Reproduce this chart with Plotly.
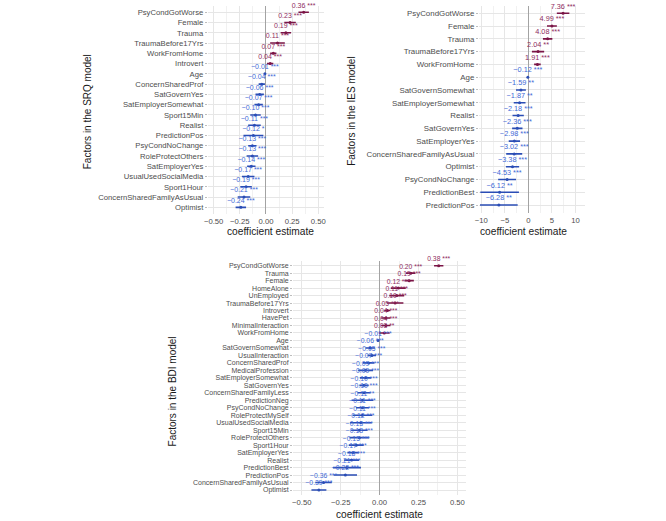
import plotly.graph_objects as go

W, H = 666, 521

# ---------------- data ----------------
srq_factors = ["PsyCondGotWorse", "Female", "Trauma", "TraumaBefore17Yrs", "WorkFromHome",
               "Introvert", "Age", "ConcernSharedProf", "SatGovernYes", "SatEmployerSomewhat",
               "Sport15Min", "Realist", "PredictionPos", "PsyCondNoChange", "RoleProtectOthers",
               "SatEmployerYes", "UsualUsedSocialMedia", "Sport1Hour",
               "ConcernSharedFamilyAsUsual", "Optimist"]
srq_coef = [0.36, 0.23, 0.19, 0.11, 0.07, 0.04, -0.01, -0.04, -0.06, -0.07,
            -0.10, -0.11, -0.12, -0.13, -0.13, -0.14, -0.17, -0.19, -0.21, -0.24]
srq_ci = [0.05, 0.055, 0.05, 0.07, 0.03, 0.03, 0.005, 0.03, 0.04, 0.04,
          0.05, 0.06, 0.095, 0.04, 0.055, 0.04, 0.06, 0.055, 0.06, 0.05]
srq_stars = ["***", "***", "***", "***", "***", "***", "***", "***", "***", "***",
             "***", "***", "*", "***", "***", "***", "***", "***", "***", "***"]

ies_factors = ["PsyCondGotWorse", "Female", "Trauma", "TraumaBefore17Yrs", "WorkFromHome",
               "Age", "SatGovernSomewhat", "SatEmployerSomewhat", "Realist", "SatGovernYes",
               "SatEmployerYes", "ConcernSharedFamilyAsUsual", "Optimist", "PsyCondNoChange",
               "PredictionBest", "PredictionPos"]
ies_coef = [7.36, 4.99, 4.08, 2.04, 1.91, -0.12, -1.59, -1.87, -2.18, -2.36,
            -2.98, -3.02, -3.38, -4.53, -6.12, -6.28]
ies_ci = [1.33, 1.05, 1.0, 1.3, 0.7, 0.05, 1.05, 1.25, 1.2, 1.1,
          1.2, 1.7, 1.4, 1.9, 4.1, 4.0]
ies_stars = ["***", "***", "***", "**", "***", "***", "**", "**", "***", "***",
             "***", "***", "***", "***", "**", "**"]

bdi_factors = ["PsyCondGotWorse", "Trauma", "Female", "HomeAlone", "UnEmployed",
               "TraumaBefore17Yrs", "Introvert", "HavePet", "MinimalInteraction", "WorkFromHome",
               "Age", "SatGovernSomewhat", "UsualInteraction", "ConcernSharedProf",
               "MedicalProfession", "SatEmployerSomewhat", "SatGovernYes",
               "ConcernSharedFamilyLess", "PredictionNeg", "PsyCondNoChange",
               "RoleProtectMySelf", "UsualUsedSocialMedia", "Sport15Min", "RoleProtectOthers",
               "Sport1Hour", "SatEmployerYes", "Realist", "PredictionBest", "PredictionPos",
               "ConcernSharedFamilyAsUsual", "Optimist"]
bdi_coef = [0.38, 0.20, 0.19, 0.12, 0.11, 0.10, 0.05, 0.04, 0.04, 0.03,
            -0.01, -0.06, -0.05, -0.07, -0.09, -0.09, -0.10, -0.10, -0.11, -0.11,
            -0.11, -0.12, -0.13, -0.13, -0.15, -0.17, -0.18, -0.21, -0.22, -0.36, -0.39]
bdi_ci = [0.03, 0.03, 0.03, 0.048, 0.048, 0.053, 0.02, 0.03, 0.03, 0.035,
          0.005, 0.03, 0.027, 0.037, 0.048, 0.037, 0.03, 0.042, 0.07, 0.042,
          0.063, 0.07, 0.053, 0.063, 0.048, 0.037, 0.048, 0.09, 0.075, 0.053, 0.048]
bdi_stars = ["***", "***", "***", "***", "***", "***", "***", "***", "***", "**",
             "***", "***", "***", "***", "***", "***", "***", "***", "**", "***",
             "***", "***", "***", "***", "***", "***", "***", "***", "***", "***", "***"]

# ---------------- styling ----------------
FONT = "Liberation Sans, Arial, sans-serif"
POS_LINE, POS_TEXT = "#7a1446", "#8e2c5e"
NEG_LINE, NEG_TEXT = "#2a4db5", "#4169d6"
GRID, MINOR_GRID = "#e6e6e6", "#f1f1f1"
TICK_COL = "#4d4d4d"

panels = [
    dict(title="Factors in the SRQ model", factors=srq_factors, coef=srq_coef, ci=srq_ci,
         stars=srq_stars, ax="", xpx=(205.7, 323.0), ypx=(6.1, 213.5),
         xrange=[-0.555, 0.555], major=[-0.5, -0.25, 0, 0.25, 0.5], fmt="{:.2f}",
         minor=[-0.375, -0.125, 0.125, 0.375], xt=(268.5, 231.7), yt=(85, 112),
         yfont=7.7, vfont=7),
    dict(title="Factors in the IES model", factors=ies_factors, coef=ies_coef, ci=ies_ci,
         stars=ies_stars, ax="2", xpx=(479.3, 586.7), ypx=(5.6, 212.7),
         xrange=[-10.5, 12.1], major=[-10, -5, 0, 5, 10], fmt="{:.0f}",
         minor=[-7.5, -2.5, 2.5, 7.5], xt=(524, 231.0), yt=(350, 111),
         yfont=7.9, vfont=7.3),
    dict(title="Factors in the BDI model", factors=bdi_factors, coef=bdi_coef, ci=bdi_ci,
         stars=bdi_stars, ax="3", xpx=(291.7, 466.0), ypx=(261.2, 494.5),
         xrange=[-0.556, 0.554], major=[-0.5, -0.25, 0, 0.25, 0.5], fmt="{:.2f}",
         minor=[-0.375, -0.125, 0.125, 0.375], xt=(379, 514.0), yt=(170, 391),
         yfont=7.0, vfont=6.8),
]


def minus(s):
    return s.replace("-", "\u2212")


fig = go.Figure()
annotations = []
for p in panels:
    xa, ya = "x" + p["ax"], "y" + p["ax"]
    for sign, lc, tc in ((1, POS_LINE, POS_TEXT), (-1, NEG_LINE, NEG_TEXT)):
        idx = [i for i, v in enumerate(p["coef"]) if (v > 0) == (sign > 0)]
        xs = [p["coef"][i] for i in idx]
        ys = [p["factors"][i] for i in idx]
        es = [p["ci"][i] for i in idx]
        txt = [minus("{:.2f}".format(p["coef"][i])) + " " + p["stars"][i] for i in idx]
        fig.add_trace(go.Scatter(
            x=xs, y=ys, xaxis=xa, yaxis=ya, mode="markers+text",
            marker=dict(size=3, color=lc),
            error_x=dict(type="data", array=es, symmetric=True, width=0,
                         thickness=1.6, color=lc),
            text=txt, textposition="top center",
            textfont=dict(family=FONT, size=p["vfont"], color=tc),
            cliponaxis=False, showlegend=False, hoverinfo="x+y"))

    n = len(p["factors"])
    x0, x1 = p["xpx"]
    y0, y1 = p["ypx"]
    fig.update_layout(**{
        "xaxis" + p["ax"]: dict(
            domain=[x0 / W, x1 / W], range=p["xrange"], anchor=ya,
            tickmode="array", tickvals=p["major"],
            ticktext=[minus(p["fmt"].format(v)) for v in p["major"]],
            showgrid=True, gridcolor=GRID, gridwidth=1,
            minor=dict(tickmode="array", tickvals=p["minor"], showgrid=True,
                       gridcolor=MINOR_GRID, gridwidth=0.6),
            zeroline=True, zerolinecolor="#a3a3a3", zerolinewidth=1.2,
            showline=False, ticks="", ticklabelstandoff=2,
            tickfont=dict(family=FONT, size=7.7, color=TICK_COL), fixedrange=True),
        "yaxis" + p["ax"]: dict(
            domain=[1 - y1 / H, 1 - y0 / H], anchor=xa, type="category",
            categoryorder="array", categoryarray=p["factors"],
            range=[n - 0.4, -0.6], tickmode="linear", tick0=0, dtick=1,
            showgrid=True, gridcolor=GRID, gridwidth=1, zeroline=False, showline=False,
            ticks="outside", ticklen=2, tickcolor="#bdbdbd", tickwidth=0.8,
            tickfont=dict(family=FONT, size=p["yfont"], color=TICK_COL), fixedrange=True),
    })
    annotations.append(dict(text="coefficient estimate", xref="paper", yref="paper",
                            x=p["xt"][0] / W, y=1 - p["xt"][1] / H, xanchor="center",
                            yanchor="middle", showarrow=False,
                            font=dict(family=FONT, size=10.2, color="#1a1a1a")))
    annotations.append(dict(text=p["title"], xref="paper", yref="paper",
                            x=p["yt"][0] / W, y=1 - p["yt"][1] / H, xanchor="center",
                            yanchor="middle", textangle=-90, showarrow=False,
                            font=dict(family=FONT, size=10, color="#1a1a1a")))

fig.update_layout(width=W, height=H, autosize=False,
                  margin=dict(l=0, r=0, t=0, b=0, pad=0),
                  paper_bgcolor="white", plot_bgcolor="white",
                  annotations=annotations, font=dict(family=FONT))

fig.write_html("out.html", config={"displayModeBar": False},
               post_script="document.body.style.margin='0';")
